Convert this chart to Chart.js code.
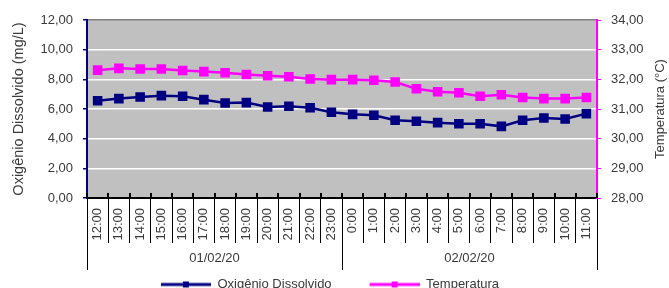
<!DOCTYPE html>
<html><head><meta charset="utf-8">
<script src="https://cdn.jsdelivr.net/npm/chart.js@4.4.0/dist/chart.umd.min.js"></script>
<style>html,body{margin:0;padding:0;background:#fff}#wrap{width:669px;height:288px}</style>
</head><body><div id="wrap"><canvas id="c" width="669" height="288"></canvas></div>
<script>
const hours = ['12:00','13:00','14:00','15:00','16:00','17:00','18:00','19:00','20:00','21:00','22:00','23:00',
               '0:00','1:00','2:00','3:00','4:00','5:00','6:00','7:00','8:00','9:00','10:00','11:00'];
const days = ['01/02/20','02/02/20'];
const oxigenio = [6.56,6.70,6.81,6.90,6.86,6.63,6.41,6.43,6.14,6.18,6.09,5.78,
                  5.64,5.58,5.24,5.17,5.08,5.01,5.01,4.83,5.24,5.39,5.33,5.69];
const temperatura = [32.31,32.37,32.35,32.35,32.30,32.26,32.22,32.16,32.12,32.09,32.01,31.99,
                     31.99,31.97,31.91,31.68,31.58,31.55,31.43,31.48,31.39,31.35,31.35,31.39];
const seriesNames = ['Oxigênio Dissolvido','Temperatura'];
const axisTitles = ['Oxigênio Dissolvido (mg/L)','Temperatura (°C)'];
const seriesColors = ['#000080','#FF00FF'];

function legendIcon(color){
  const cv = document.createElement('canvas');
  cv.width = 80; cv.height = 10;
  const g = cv.getContext('2d');
  g.strokeStyle = color; g.lineWidth = 3;
  g.beginPath(); g.moveTo(30,5); g.lineTo(80,5); g.stroke();
  g.fillStyle = color; g.fillRect(52,2,6,6);
  return cv;
}
const icons = seriesColors.map(legendIcon);
const fam = '"Liberation Sans", Arial, sans-serif';
const txt = '#3a3a3a';
const fmt = v => Number(v).toFixed(2).replace('.', ',');

const bgPlugin = {
  id: 'bg',
  beforeDraw(chart){
    const {ctx, chartArea:a} = chart;
    ctx.save(); ctx.fillStyle = '#C0C0C0';
    ctx.fillRect(a.left, a.top, a.right-a.left, a.bottom-a.top);
    ctx.restore();
  },
  afterDraw(chart){
    const {ctx, chartArea:a} = chart;
    const x = chart.scales.x;
    ctx.save();
    ctx.strokeStyle = '#000'; ctx.lineWidth = 2;
    for (let i = 0; i <= hours.length; i++){
      const px = Math.round(x.getPixelForValue(i - 0.5)) ;
      ctx.beginPath(); ctx.moveTo(px, a.bottom - 5); ctx.lineTo(px, a.bottom); ctx.stroke();
    }
    ctx.fillStyle = txt; ctx.font = '13px ' + fam;
    ctx.textAlign = 'center'; ctx.textBaseline = 'middle';
    ctx.translate(660, (a.top + a.bottom) / 2);
    ctx.rotate(-Math.PI / 2);
    ctx.fillText(axisTitles[1], 0, 0);
    ctx.restore();
  }
};

new Chart(document.getElementById('c'), {
  type: 'line',
  data: {
    labels: hours,
    datasets: [
      {label: seriesNames[0], data: oxigenio, yAxisID: 'y', xAxisID: 'x',
       borderColor: seriesColors[0], backgroundColor: seriesColors[0], borderWidth: 2.5,
       pointStyle: 'rect', pointRadius: 5, pointHoverRadius: 5, tension: 0},
      {label: seriesNames[1], data: temperatura, yAxisID: 'y2', xAxisID: 'x',
       borderColor: seriesColors[1], backgroundColor: seriesColors[1], borderWidth: 2.5,
       pointStyle: 'rect', pointRadius: 5, pointHoverRadius: 5, tension: 0}
    ]
  },
  options: {
    responsive: false, animation: false, devicePixelRatio: 1,
    layout: {padding: {top: 20, left: -20, right: 19, bottom: -13}},
    plugins: {
      tooltip: {enabled: false},
      legend: {
        position: 'bottom',
        labels: {
          usePointStyle: true, pointStyleWidth: 80, padding: 8, color: txt,
          font: {family: fam, size: 13},
          generateLabels(chart){
            const items = Chart.defaults.plugins.legend.labels.generateLabels(chart);
            items.forEach((it,i) => { it.pointStyle = icons[i]; });
            return items;
          }
        }
      }
    },
    scales: {
      x: {
        type: 'category', position: 'bottom', offset: true,
        grid: {display: true, drawOnChartArea: false, offset: true, color: '#000', tickLength: 45, lineWidth: 1},
        border: {display: true, color: '#000', width: 2},
        ticks: {autoSkip: false, minRotation: 90, maxRotation: 90, padding: -35, color: txt, font: {family: fam, size: 13}},
        afterFit(s){ s.height = 45; }
      },
      x2: {
        type: 'category', position: 'bottom', offset: true, labels: days,
        grid: {display: true, drawOnChartArea: false, offset: true, color: '#000', tickLength: 27, lineWidth: 1},
        border: {display: false},
        ticks: {padding: -19, color: txt, font: {family: fam, size: 13}},
        afterFit(s){ s.height = 27; }
      },
      y: {
        position: 'left', min: 0, max: 12,
        ticks: {stepSize: 2, padding: 10, color: txt, font: {family: fam, size: 13}, callback: fmt},
        grid: {color: c => c.tick && c.tick.value === 12 ? '#808080' : '#FFFFFF', tickColor: '#000080', tickLength: 4, lineWidth: 1.5},
        border: {color: '#000080', width: 2},
        title: {display: true, text: axisTitles[0], color: txt, font: {family: fam, size: 14.5}, padding: {top: 30, bottom: 0}},
        afterFit(s){ s.width = 107; }
      },
      y2: {
        position: 'right', min: 28, max: 34,
        ticks: {stepSize: 1, padding: 10, color: txt, font: {family: fam, size: 13}, callback: fmt},
        grid: {drawOnChartArea: false, tickColor: '#FF00FF', tickLength: 4},
        border: {color: '#FF00FF', width: 2},
        afterFit(s){ s.width = 53; }
      }
    }
  },
  plugins: [bgPlugin]
});
</script></body></html>
